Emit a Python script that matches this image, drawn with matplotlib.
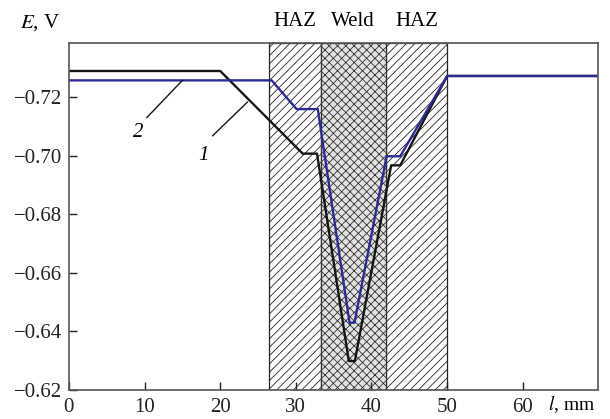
import matplotlib
matplotlib.use("Agg")
import matplotlib.pyplot as plt

# --- data -------------------------------------------------------------
l1 = [0, 20, 30.9, 32.8, 37.0, 37.8, 42.6, 43.8, 50, 70]
e1 = [-0.7289, -0.7289, -0.7007, -0.7007, -0.6299, -0.6299, -0.6967, -0.6967, -0.7272, -0.7272]

l2 = [0, 26.8, 30.1, 32.9, 37.1, 37.75, 42.0, 43.8, 50, 70]
e2 = [-0.7257, -0.7257, -0.7159, -0.7159, -0.6430, -0.6430, -0.6998, -0.6998, -0.7272, -0.7272]

haz_left = (26.5, 33.3)
weld = (33.3, 41.9)
haz_right = (41.9, 50.0)

x_ticks = [0, 10, 20, 30, 40, 50, 60]
y_ticks = [-0.72, -0.70, -0.68, -0.66, -0.64, -0.62]

plt.rcParams['font.family'] = ['Liberation Serif', 'DejaVu Serif']
plt.rcParams['mathtext.fontset'] = 'stix'
plt.rcParams['hatch.linewidth'] = 0.6

fig, ax = plt.subplots(figsize=(6.1, 4.19), dpi=100)
fig.subplots_adjust(left=0.113, right=0.981, top=0.897, bottom=0.069)

# zones
for a, b in (haz_left, haz_right):
    ax.axvspan(a, b, facecolor='white', edgecolor='#222222', hatch='////',
               linewidth=0.9, zorder=1)
ax.axvspan(*weld, facecolor='#e2e2e2', edgecolor='#333333', hatch='xxxx',
           linewidth=0.9, zorder=1)

ax.plot(l1, e1, color='#151515', lw=1.7, zorder=3)
ax.plot(l2, e2, color='#2b2b95', lw=1.7, zorder=4)

# curve labels with leader lines
ax.plot([10.3, 15.0], [-0.7130, -0.7257], color='#151515', lw=1.0, zorder=5)
ax.text(9.2, -0.7080, '2', fontsize=15, style='italic', ha='center', va='center')
ax.plot([19.0, 23.6], [-0.7068, -0.7183], color='#151515', lw=1.0, zorder=5)
ax.text(17.8, -0.7000, '1', fontsize=15, style='italic', ha='center', va='center')

ax.set_xlim(0, 70)
ax.set_ylim(-0.62, -0.7384)
ax.set_xticks(x_ticks)
ax.set_yticks(y_ticks)
ax.set_xticklabels([str(v) for v in x_ticks])
ax.set_yticklabels([f"\u2212{abs(v):.2f}" for v in y_ticks])
ax.tick_params(direction='in', length=6, width=1.0, labelsize=15,
               colors='#222222', pad=5)
ax.tick_params(axis='x', pad=6)
for s in ax.spines.values():
    s.set_linewidth(1.2)
    s.set_color('#555555')
    s.set_zorder(6)

# axis titles and zone names
ax.text(-0.093, 1.03, r'$E$, V', transform=ax.transAxes, fontsize=15,
        ha='left', va='bottom')
ax.text(63.4, -0.6152, r'$l$, mm', fontsize=14, ha='left', va='center')
for xc, name in ((29.9, 'HAZ'), (37.6, 'Weld'), (46.0, 'HAZ')):
    ax.text(xc, 1.035, name, transform=ax.get_xaxis_transform(),
            fontsize=15, ha='center', va='bottom')

fig.savefig('out.png', dpi=100)
